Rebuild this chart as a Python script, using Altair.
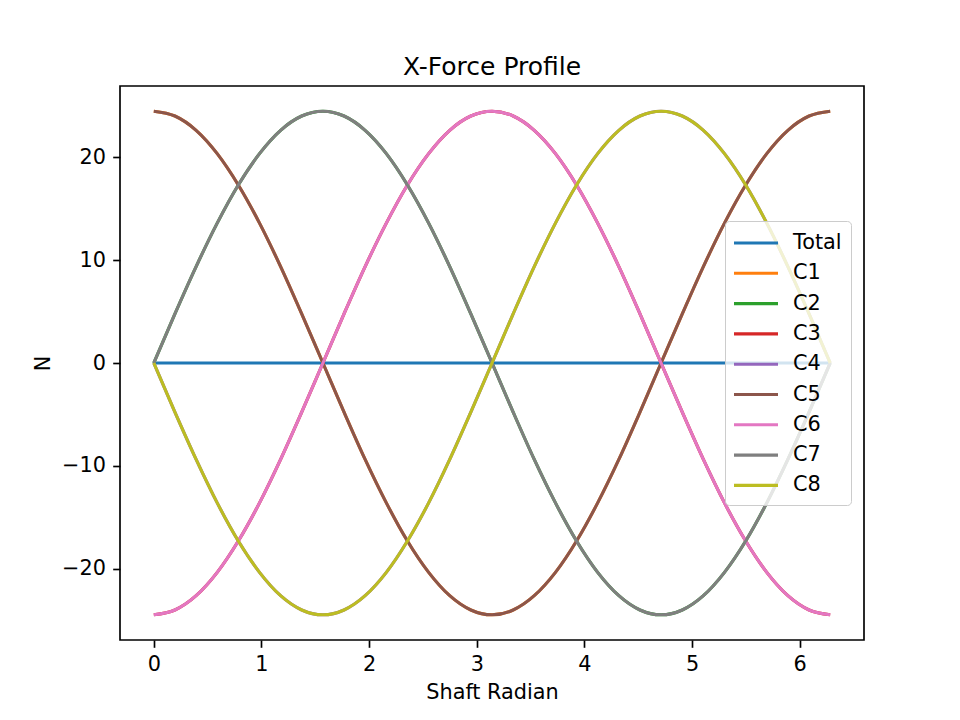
import altair as alt
import pandas as pd

x_rad = [0.000, 0.196, 0.393, 0.589, 0.785, 0.982, 1.178, 1.374, 1.571, 1.767, 1.963,
         2.160, 2.356, 2.553, 2.749, 2.945, 3.142, 3.338, 3.534, 3.731, 3.927, 4.123,
         4.320, 4.516, 4.712, 4.909, 5.105, 5.301, 5.498, 5.694, 5.890, 6.087, 6.283]

total = [0.00] * 33
c1 = [24.50, 24.03, 22.64, 20.37, 17.32, 13.61, 9.38, 4.78, 0.00, -4.78, -9.38,
      -13.61, -17.32, -20.37, -22.64, -24.03, -24.50, -24.03, -22.64, -20.37, -17.32, -13.61,
      -9.38, -4.78, 0.00, 4.78, 9.38, 13.61, 17.32, 20.37, 22.64, 24.03, 24.50]
c2 = [0.00, 4.78, 9.38, 13.61, 17.32, 20.37, 22.64, 24.03, 24.50, 24.03, 22.64,
      20.37, 17.32, 13.61, 9.38, 4.78, 0.00, -4.78, -9.38, -13.61, -17.32, -20.37,
      -22.64, -24.03, -24.50, -24.03, -22.64, -20.37, -17.32, -13.61, -9.38, -4.78, 0.00]
c3 = [-24.50, -24.03, -22.64, -20.37, -17.32, -13.61, -9.38, -4.78, 0.00, 4.78, 9.38,
      13.61, 17.32, 20.37, 22.64, 24.03, 24.50, 24.03, 22.64, 20.37, 17.32, 13.61,
      9.38, 4.78, 0.00, -4.78, -9.38, -13.61, -17.32, -20.37, -22.64, -24.03, -24.50]
c4 = [0.00, -4.78, -9.38, -13.61, -17.32, -20.37, -22.64, -24.03, -24.50, -24.03, -22.64,
      -20.37, -17.32, -13.61, -9.38, -4.78, 0.00, 4.78, 9.38, 13.61, 17.32, 20.37,
      22.64, 24.03, 24.50, 24.03, 22.64, 20.37, 17.32, 13.61, 9.38, 4.78, 0.00]
c5 = [24.50, 24.03, 22.64, 20.37, 17.32, 13.61, 9.38, 4.78, 0.00, -4.78, -9.38,
      -13.61, -17.32, -20.37, -22.64, -24.03, -24.50, -24.03, -22.64, -20.37, -17.32, -13.61,
      -9.38, -4.78, 0.00, 4.78, 9.38, 13.61, 17.32, 20.37, 22.64, 24.03, 24.50]
c6 = [-24.50, -24.03, -22.64, -20.37, -17.32, -13.61, -9.38, -4.78, 0.00, 4.78, 9.38,
      13.61, 17.32, 20.37, 22.64, 24.03, 24.50, 24.03, 22.64, 20.37, 17.32, 13.61,
      9.38, 4.78, 0.00, -4.78, -9.38, -13.61, -17.32, -20.37, -22.64, -24.03, -24.50]
c7 = [0.00, 4.78, 9.38, 13.61, 17.32, 20.37, 22.64, 24.03, 24.50, 24.03, 22.64,
      20.37, 17.32, 13.61, 9.38, 4.78, 0.00, -4.78, -9.38, -13.61, -17.32, -20.37,
      -22.64, -24.03, -24.50, -24.03, -22.64, -20.37, -17.32, -13.61, -9.38, -4.78, 0.00]
c8 = [0.00, -4.78, -9.38, -13.61, -17.32, -20.37, -22.64, -24.03, -24.50, -24.03, -22.64,
      -20.37, -17.32, -13.61, -9.38, -4.78, 0.00, 4.78, 9.38, 13.61, 17.32, 20.37,
      22.64, 24.03, 24.50, 24.03, 22.64, 20.37, 17.32, 13.61, 9.38, 4.78, 0.00]

names = ["Total", "C1", "C2", "C3", "C4", "C5", "C6", "C7", "C8"]
colors = ["#1f77b4", "#ff7f0e", "#2ca02c", "#d62728", "#9467bd",
          "#8c564b", "#e377c2", "#7f7f7f", "#bcbd22"]
series = [total, c1, c2, c3, c4, c5, c6, c7, c8]

x_ticks = [0, 1, 2, 3, 4, 5, 6]
y_ticks = [-20, -10, 0, 10, 20]

rows = []
for n, vals in zip(names, series):
    for xv, yv in zip(x_rad, vals):
        rows.append({"series": n, "x": xv, "y": yv})
df = pd.DataFrame(rows)

FS = 20.8

xenc = alt.X("x:Q", title="Shaft Radian",
             scale=alt.Scale(domain=[-0.314, 6.597], nice=False, zero=False),
             axis=alt.Axis(values=x_ticks, format="d"))
yenc = alt.Y("y:Q", title="N",
             scale=alt.Scale(domain=[-26.95, 26.95], nice=False, zero=False),
             axis=alt.Axis(values=y_ticks, format="d"))

legend = alt.Legend(
    title=None, orient="none", legendX=605, legendY=135,
    symbolType="M-2,0H2", symbolSize=484, symbolStrokeWidth=3.1,
    symbolOffset=9, labelOffset=24,
    labelFontSize=FS, labelFont="DejaVu Sans", labelColor="black",
    rowPadding=7.3, padding=9,
    strokeColor="#cccccc", fillColor="rgba(255,255,255,0.8)", cornerRadius=4,
)

layers = []
for n in names:
    layers.append(
        alt.Chart(df)
        .transform_filter(alt.datum.series == n)
        .mark_line(strokeWidth=3.1, interpolate="monotone")
        .encode(
            x=xenc, y=yenc,
            color=alt.Color("series:N",
                            scale=alt.Scale(domain=names, range=colors),
                            legend=legend),
        )
    )

chart = (
    alt.layer(*layers)
    .properties(
        width=744, height=554,
        title=alt.TitleParams("X-Force Profile", fontSize=25, font="DejaVu Sans",
                              fontWeight="normal", color="black", offset=-14,
                              baseline="alphabetic", anchor="middle"),
        autosize=alt.AutoSizeParams(type="none"),
        padding={"left": 112, "top": 78, "right": 88, "bottom": 72},
    )
    .configure(font="DejaVu Sans")
    .configure_view(stroke="black", strokeWidth=1.67)
    .configure_axis(
        grid=False, domain=False,
        tickColor="black", tickWidth=1.67, tickSize=7.3,
        labelPadding=7.3, labelFontSize=FS, labelFont="DejaVu Sans", labelColor="black",
        titleFontSize=FS, titleFont="DejaVu Sans", titleFontWeight="normal",
        titleColor="black", titlePadding=8,
    )
)

chart.save("out.html", embed_options={"renderer": "svg", "actions": False})
